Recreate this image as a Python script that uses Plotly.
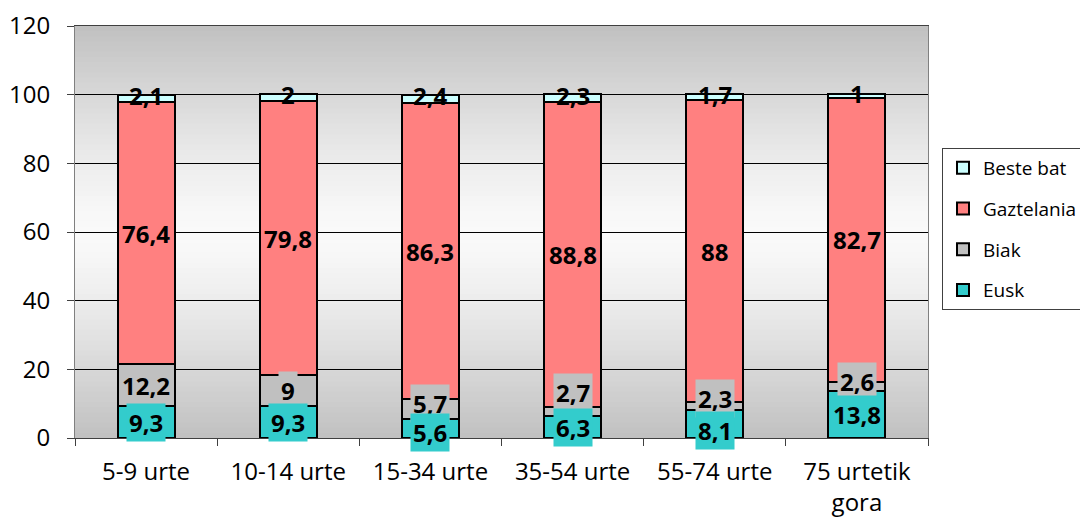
import plotly.graph_objects as go

categories = ["5-9 urte", "10-14 urte", "15-34 urte", "35-54 urte", "55-74 urte", "75 urtetik<br>gora"]
eusk = [9.3, 9.3, 5.6, 6.3, 8.1, 13.8]
biak = [12.2, 9, 5.7, 2.7, 2.3, 2.6]
gaztelania = [76.4, 79.8, 86.3, 88.8, 88, 82.7]
beste_bat = [2.1, 2, 2.4, 2.3, 1.7, 1]
y_ticks = [0, 20, 40, 60, 80, 100, 120]

series = [
    ("Eusk", eusk, "#33CCCC"),
    ("Biak", biak, "#C0C0C0"),
    ("Gaztelania", gaztelania, "#FF8080"),
    ("Beste bat", beste_bat, "#CCFFFF"),
]

FONT = "Open Sans"
W, H = 1080, 512  # page body adds an 8px offset
fig = go.Figure()
for i, (name, vals, col) in enumerate(series):
    fig.add_trace(go.Bar(
        x=categories, y=vals, name=name, legendgroup=name,
        legendrank=len(series) - i,
        marker=dict(color=col, line=dict(color="black", width=2)),
    ))

# gradient background (gray -> white -> gray)
n = 80
def grad(t):
    d = abs(t - 0.5) * 2
    v = int(round(250 - (250 - 192) * d ** 1.3))
    return f"rgb({v},{v},{v})"
shapes = []
for k in range(n):
    y0 = k / n
    y1 = (k + 1) / n
    shapes.append(dict(type="rect", xref="paper", yref="paper", x0=0, x1=1,
                       y0=y0, y1=y1 + 0.002, fillcolor=grad((k + 0.5) / n),
                       line=dict(width=0), layer="below"))

# data labels
label_shift = {
    ("Eusk", 2): -4, ("Eusk", 4): -6,
    ("Biak", 2): 5, ("Biak", 3): 19, ("Biak", 4): 8, ("Biak", 5): 5,
}
label_bg = {"Eusk": "#33CCCC", "Biak": "#C0C0C0"}
draw_order = ["Beste bat", "Gaztelania", "Biak", "Eusk"]
base = [0.0] * len(categories)
centers = {}
for name, vals, col in series:
    centers[name] = []
    for j, v in enumerate(vals):
        centers[name].append(base[j] + v / 2)
        base[j] += v
vals_by_name = {name: vals for name, vals, _ in series}
annotations = []
for name in draw_order:
    for j, v in enumerate(vals_by_name[name]):
        shift = label_shift.get((name, j), 0)
        if name == "Beste bat":
            shift = 3
        txt = ("%g" % v).replace(".", ",")
        annotations.append(dict(
            x=categories[j], y=centers[name][j], xref="x", yref="y",
            text="<b>%s</b>" % txt,
            showarrow=False, yshift=shift,
            font=dict(family=FONT, size=24, color="black"),
            bgcolor=label_bg.get(name, "rgba(0,0,0,0)"), borderpad=2,
        ))

fig.update_layout(
    barmode="stack", bargap=0.6,
    width=W, height=H,
    margin=dict(l=67, r=160, t=18, b=82, autoexpand=False),
    paper_bgcolor="white", plot_bgcolor="white",
    font=dict(family=FONT, size=24, color="black"),
    shapes=shapes, annotations=annotations,
    legend=dict(
        xref="container", yref="container",
        x=934 / W, y=1 - 140 / H, xanchor="left", yanchor="top",
        traceorder="grouped", tracegroupgap=13,
        bordercolor="#404040", borderwidth=1, bgcolor="white",
        font=dict(family=FONT, size=19, color="black"),
        itemwidth=30,
    ),
    showlegend=True,
)
fig.update_xaxes(
    showline=True, linecolor="#404040", linewidth=1, mirror=True,
    ticks="outside", ticklen=7, tickcolor="#404040", tickson="boundaries",
    showgrid=False, ticklabelstandoff=12,
    tickfont=dict(family=FONT, size=24, color="black"),
)
fig.update_yaxes(
    range=[0, 120], tickvals=y_ticks,
    showline=True, linecolor="#808080", linewidth=1, mirror=True,
    ticks="outside", ticklen=7, tickcolor="#404040",
    showgrid=True, gridcolor="black", gridwidth=1, zeroline=False,
    ticklabelstandoff=12,
    tickfont=dict(family=FONT, size=24, color="black"),
)

fig.write_html("out.html")
